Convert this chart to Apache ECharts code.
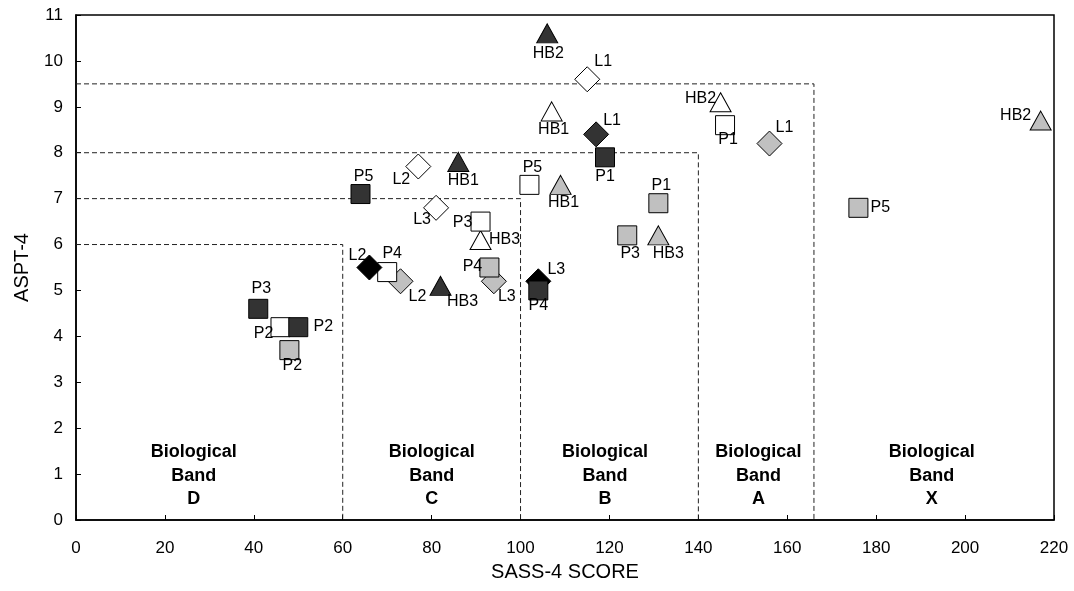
<!DOCTYPE html>
<html>
<head>
<meta charset="utf-8">
<script src="https://cdn.jsdelivr.net/npm/echarts@6/dist/echarts.min.js"></script>
<style>
  html, body { margin: 0; padding: 0; background: #fff; }
  #chart { width: 1074px; height: 591px; }
</style>
</head>
<body>
<div id="chart"></div>
<script>
// Sampling sites
const sites = ['HB1', 'HB2', 'HB3', 'L1', 'L2', 'L3', 'P1', 'P2', 'P3', 'P4', 'P5'];

// SASS-4 score and ASPT-4 for each site, one pair of arrays per survey
const sassLight = [109, 217, 131, 156, 73, 94, 131, 48, 124, 93, 176];
const asptLight = [7.3, 8.7, 6.2, 8.2, 5.2, 5.2, 6.9, 3.7, 6.2, 5.5, 6.8];
const sassWhite = [107, 145, 91, 115, 77, 81, 146, 46, 91, 70, 102];
const asptWhite = [8.9, 9.1, 6.1, 9.6, 7.7, 6.8, 8.6, 4.2, 6.5, 5.4, 7.3];
const sassDark = [86, 106, 82, 117, 66, 104, 119, 50, 41, 104, 64];
const asptDark = [7.8, 10.6, 5.1, 8.4, 5.5, 5.2, 7.9, 4.2, 4.6, 5.0, 7.1];

// Biological band limits: upper SASS-4 score and upper ASPT-4 of bands D, C, B, A
const bandSass = [60, 100, 140, 166];
const bandAspt = [6, 7, 8, 9.5];
const bandNames = ['D', 'C', 'B', 'A', 'X'];
const bandLabelSass = [26.5, 80, 119, 153.5, 192.5];
const bandLabelAspt = 0.96;

// Axis ranges
const xMin = 0, xMax = 220, xStep = 20;
const yMin = 0, yMax = 11, yStep = 1;

// ---- styling ----
const FONT = '"Liberation Sans", Arial, Helvetica, sans-serif';

const labelOffsets = {
  light: { HB1: [3, 18], HB2: [-25, -5], HB3: [10, 18], L1: [15, -16], L2: [17, 15], L3: [13, 15],
           P1: [3, -18], P2: [3, 15], P3: [3, 18], P4: [-17, -1], P5: [22, 0] },
  white: { HB1: [2, 18], HB2: [-20, -4], HB3: [24, 0], L1: [16, -18], L2: [-17, 13], L3: [-14, 12],
           P1: [3, 14], P2: [-17, 6], P3: [-18, 1], P4: [5, -18], P5: [3, -17] },
  dark:  { HB1: [5, 19], HB2: [1, 20], HB3: [22, 16], L1: [16, -14], L2: [-12, -12], L3: [18, -12],
           P1: [0, 19], P2: [25, -1], P3: [3, -20], P4: [0, 15], P5: [3, -17] }
};

function symbolFor(site) {
  if (site.startsWith('HB')) return { symbol: 'triangle', size: [21, 19] };
  if (site.startsWith('L')) return { symbol: 'diamond', size: [25, 25] };
  return { symbol: 'rect', size: [19, 19] };
}

function surveySeries(name, xs, ys, fillFn, offsets) {
  return {
    name: name,
    type: 'scatter',
    z: 5,
    itemStyle: { opacity: 1 },
    data: sites.map((s, i) => {
      const sym = symbolFor(s);
      return {
        name: s,
        value: [xs[i], ys[i]],
        symbol: sym.symbol,
        symbolSize: sym.size,
        itemStyle: { color: fillFn(s), borderColor: '#000', borderWidth: 1, opacity: 1 },
        label: {
          show: true,
          position: 'inside',
          offset: offsets[s],
          formatter: s,
          color: '#000',
          fontSize: 16,
          fontFamily: FONT
        }
      };
    }),
    emphasis: { disabled: true }
  };
}

// dashed band boundary lines
const boundarySeries = bandSass.map((sx, i) => ({
  type: 'line',
  data: [[xMin, bandAspt[i]], [sx, bandAspt[i]], [sx, yMin]],
  symbol: 'none',
  silent: true,
  z: 1,
  lineStyle: { color: '#222', width: 1, type: [5, 3], opacity: 1 }
}));

const bandLabelSeries = {
  type: 'scatter',
  silent: true,
  z: 2,
  symbolSize: 1,
  itemStyle: { color: 'rgba(0,0,0,0)', opacity: 1 },
  data: bandNames.map((b, i) => ({
    value: [bandLabelSass[i], bandLabelAspt],
    label: {
      show: true,
      position: 'inside',
      formatter: 'Biological\nBand\n' + b,
      color: '#000',
      fontSize: 18,
      fontWeight: 'bold',
      fontFamily: FONT,
      lineHeight: 23.5,
      align: 'center'
    }
  }))
};

const chart = echarts.init(document.getElementById('chart'), null, { renderer: 'canvas' });
chart.setOption({
  animation: false,
  backgroundColor: '#fff',
  grid: { left: 76, right: 20, top: 15, bottom: 71, show: true, borderColor: '#000', borderWidth: 1.5 },
  xAxis: {
    type: 'value', min: xMin, max: xMax, interval: xStep,
    name: 'SASS-4 SCORE', nameLocation: 'middle', nameGap: 42,
    nameTextStyle: { fontSize: 20, color: '#000', fontFamily: FONT },
    axisLine: { show: true, lineStyle: { color: '#000', width: 1.5 } },
    axisTick: { show: true, inside: true, length: 5, lineStyle: { color: '#000' } },
    axisLabel: { fontSize: 17, color: '#000', fontFamily: FONT, margin: 20 },
    splitLine: { show: false }
  },
  yAxis: {
    type: 'value', min: yMin, max: yMax, interval: yStep,
    name: 'ASPT-4', nameLocation: 'middle', nameGap: 44, nameRotate: 90,
    nameTextStyle: { fontSize: 20, color: '#000', fontFamily: FONT },
    axisLine: { show: true, lineStyle: { color: '#000', width: 1.5 } },
    axisTick: { show: true, inside: true, length: 5, lineStyle: { color: '#000' } },
    axisLabel: { fontSize: 17, color: '#000', fontFamily: FONT, margin: 13 },
    splitLine: { show: false }
  },
  series: [
    ...boundarySeries,
    bandLabelSeries,
    surveySeries('Survey 1', sassLight, asptLight, () => '#c0c0c0', labelOffsets.light),
    surveySeries('Survey 2', sassWhite, asptWhite, () => '#ffffff', labelOffsets.white),
    surveySeries('Survey 3', sassDark, asptDark, s => (s === 'L2' || s === 'L3') ? '#000000' : '#333333', labelOffsets.dark)
  ]
});
</script>
</body>
</html>
